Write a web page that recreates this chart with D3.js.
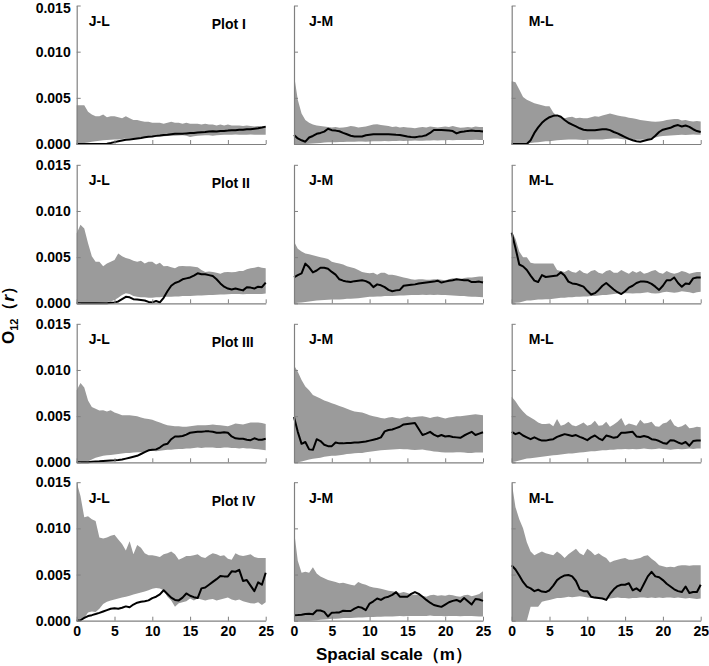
<!DOCTYPE html>
<html>
<head>
<meta charset="utf-8">
<script src="https://cdn.jsdelivr.net/npm/d3@7"></script>
<style>
  html, body { margin: 0; padding: 0; background: #fff; }
  svg { display: block; font-family: "Liberation Sans", Arial, sans-serif; }
</style>
</head>
<body>
<svg id="chart" width="709" height="666"></svg>
<script>
// ---------------- DATA (values in units of 0.001) ----------------
const plotNames = ["Plot I", "Plot II", "Plot III", "Plot IV"];
const pairNames = ["J-L", "J-M", "M-L"];
const xTicks = [0, 5, 10, 15, 20, 25];
const yTicks = [0, 5, 10, 15];
const yTickLabels = ["0.000", "0.005", "0.010", "0.015"];
const xMax = 25;  // spatial scale (m); each series sampled every 0.5 m from 0 to 25

// Plot I
const p1_JL_upper = [4.2,4.2,4.2,3.5,3.2,3.0,3.0,3.2,2.9,3.0,3.0,2.9,2.8,3.0,2.8,2.6,2.6,2.5,2.4,2.4,2.3,2.3,2.3,2.2,2.3,2.4,2.3,2.3,2.2,2.3,2.2,2.2,2.2,2.1,2.2,2.1,2.1,2.0,2.1,2.0,2.1,2.0,2.0,2.0,1.95,2.0,1.95,1.9,1.95,1.9,1.9];
const p1_JL_lower = [0,0.05,0.1,0.15,0.25,0.3,0.35,0.4,0.43,0.45,0.5,0.5,0.55,0.6,0.6,0.62,0.65,0.7,0.72,0.75,0.8,0.8,0.82,0.85,0.87,0.9,0.9,0.92,0.95,0.9,0.75,0.85,0.9,0.92,0.95,0.95,0.9,0.95,0.98,1.0,1.0,1.0,1.02,1.0,1.0,1.0,1.02,1.0,1.0,1.0,1.0];
const p1_JL_obs   = [0,0,0,0,0,0,0,0,0.02,0.1,0.2,0.3,0.38,0.45,0.5,0.55,0.6,0.65,0.72,0.78,0.82,0.88,0.92,0.97,1.0,1.05,1.1,1.12,1.1,1.15,1.18,1.2,1.25,1.28,1.3,1.35,1.38,1.35,1.4,1.42,1.45,1.5,1.5,1.55,1.55,1.6,1.6,1.65,1.7,1.78,1.88];

const p1_JM_upper = [7.5,4.8,3.3,2.6,2.3,2.1,2.0,1.95,1.9,1.85,1.8,1.85,1.75,1.8,1.85,1.95,1.9,1.8,1.85,1.9,2.0,2.1,2.15,2.05,2.0,1.95,1.85,1.9,1.8,1.85,1.8,1.75,1.7,1.8,1.85,1.8,1.9,1.85,1.8,1.85,1.9,1.85,1.95,1.85,1.75,1.8,1.85,1.8,1.9,1.85,1.85];
const p1_JM_lower = [0,0,0,0,0.02,0.05,0.08,0.1,0.15,0.18,0.2,0.2,0.22,0.22,0.25,0.25,0.25,0.27,0.28,0.25,0.28,0.3,0.3,0.3,0.32,0.3,0.32,0.33,0.35,0.33,0.35,0.35,0.38,0.35,0.36,0.38,0.38,0.4,0.38,0.4,0.4,0.42,0.4,0.42,0.43,0.43,0.42,0.43,0.45,0.43,0.43];
const p1_JM_obs   = [0.98,0.6,0.4,0.25,0.7,0.87,1.1,1.2,1.34,1.65,1.5,1.45,1.38,1.2,1.05,0.9,0.82,0.8,0.82,0.95,1.0,1.05,1.05,1.05,1.05,1.05,1.03,1.0,0.98,0.9,0.82,0.75,0.72,0.8,0.85,0.95,1.2,1.52,1.52,1.52,1.5,1.45,1.4,1.15,1.3,1.35,1.42,1.45,1.42,1.4,1.35];

const p1_ML_upper = [6.8,6.7,5.9,5.1,4.8,4.6,4.4,4.3,4.2,4.1,4.1,3.4,3.0,2.9,2.8,2.9,2.95,2.8,2.85,2.8,2.8,2.9,3.0,2.95,3.1,3.2,3.3,3.2,3.1,3.0,2.95,2.85,2.8,2.7,2.6,2.55,2.5,2.45,2.4,2.45,2.5,2.6,2.65,2.7,2.7,2.55,2.6,2.5,2.45,2.5,2.45];
const p1_ML_lower = [0,0,0,0.02,0.05,0.1,0.15,0.2,0.25,0.3,0.3,0.35,0.4,0.42,0.45,0.48,0.5,0.48,0.45,0.42,0.45,0.5,0.5,0.48,0.5,0.55,0.58,0.6,0.6,0.55,0.5,0.48,0.45,0.45,0.45,0.48,0.55,0.62,0.7,0.8,0.87,0.9,0.92,0.95,0.98,1.0,0.98,1.0,1.02,1.0,1.0];
const p1_ML_obs   = [0,0,0,0,0,0.4,1.2,1.8,2.3,2.65,2.9,3.05,3.1,2.95,2.6,2.3,2.1,1.9,1.7,1.55,1.5,1.5,1.5,1.55,1.6,1.6,1.5,1.3,1.15,0.95,0.75,0.55,0.4,0.3,0.25,0.35,0.45,0.55,0.9,1.3,1.55,1.65,1.75,1.95,2.05,1.9,2.0,1.85,1.6,1.4,1.3];

// Plot II
const p2_JL_upper = [7.6,8.5,8.1,6.5,5.1,4.5,4.5,4.0,4.3,4.5,4.7,5.4,5.1,4.9,4.8,4.6,4.5,4.6,4.3,4.5,4.5,4.2,4.4,4.0,4.05,3.9,3.8,4.0,4.05,4.0,4.0,3.95,3.9,3.6,3.4,3.45,3.4,3.3,3.2,3.35,3.4,3.35,3.4,3.5,3.5,3.7,3.8,3.85,3.95,3.85,3.8];
const p2_JL_lower = [0,0,0,0,0,0.02,0.05,0.1,0.15,0.2,0.35,0.6,0.9,1.1,1.0,0.8,0.7,0.65,0.65,0.6,0.6,0.65,0.65,0.7,0.7,0.72,0.75,0.75,0.78,0.8,0.8,0.82,0.85,0.85,0.88,0.9,0.9,0.92,0.95,0.95,0.98,1.0,1.0,1.0,0.98,1.0,1.0,1.02,1.0,1.02,1.05];
const p2_JL_obs   = [0,0,0,0,0,0,0,0,0,0.05,0.1,0.2,0.45,0.7,0.65,0.45,0.4,0.35,0.3,0.15,0.1,0.25,0.1,0.6,1.3,1.9,2.2,2.35,2.6,2.7,2.8,3.0,3.25,3.15,3.15,3.05,2.95,2.6,2.15,1.8,1.6,1.5,1.6,1.5,1.4,1.75,1.7,1.6,1.8,1.75,2.25];

const p2_JM_upper = [6.7,5.9,5.6,5.4,5.3,5.2,5.1,5.0,4.9,4.8,4.5,4.4,4.3,4.2,4.0,3.9,3.8,3.6,3.4,3.3,3.25,3.3,3.1,3.3,3.3,3.1,3.1,3.0,2.9,2.8,2.7,2.6,2.55,2.6,2.6,2.55,2.55,2.6,2.6,2.55,2.5,2.6,2.7,2.65,2.6,2.75,2.8,2.8,2.85,2.9,2.9];
const p2_JM_lower = [0,0.05,0.1,0.15,0.2,0.25,0.3,0.32,0.35,0.38,0.4,0.42,0.42,0.45,0.48,0.5,0.52,0.55,0.6,0.65,0.7,0.72,0.75,0.75,0.78,0.8,0.8,0.82,0.85,0.85,0.88,0.9,0.9,0.9,0.92,0.9,0.92,0.9,0.92,0.9,0.9,0.88,0.85,0.82,0.8,0.78,0.75,0.72,0.7,0.68,0.65];
const p2_JM_obs   = [2.8,3.05,3.25,4.3,3.9,3.35,3.55,3.85,3.85,3.75,3.4,3.1,2.6,2.45,2.35,2.3,2.4,2.45,2.5,2.4,2.2,1.75,2.05,1.95,1.75,1.45,1.3,1.4,1.45,1.9,1.95,2.0,2.05,2.15,2.2,2.25,2.3,2.35,2.45,2.25,2.35,2.45,2.5,2.6,2.55,2.5,2.5,2.3,2.3,2.35,2.25];

const p2_ML_upper = [7.8,7.0,5.6,5.0,5.0,4.4,4.3,4.3,4.3,4.3,4.3,4.3,3.6,3.5,3.4,3.6,3.4,3.3,3.6,3.3,3.2,3.5,3.6,3.3,3.2,3.5,3.6,3.3,3.3,3.6,3.4,3.2,3.5,3.3,3.5,3.2,3.3,3.5,3.6,3.3,3.2,3.5,3.3,3.2,3.3,3.5,3.4,3.2,3.3,3.4,3.4];
const p2_ML_lower = [0,0.05,0.1,0.2,0.3,0.3,0.35,0.4,0.42,0.45,0.45,0.5,0.55,0.6,0.6,0.65,0.65,0.7,0.7,0.75,0.75,0.78,0.8,0.85,0.9,0.9,0.95,1.0,1.05,1.05,1.1,1.1,1.05,1.1,1.1,1.15,1.2,1.1,1.05,1.1,1.2,1.25,1.2,1.15,1.2,1.3,1.25,1.2,1.1,1.2,1.25];
const p2_ML_obs   = [7.65,6.0,4.2,4.0,3.6,3.0,2.45,2.3,3.05,2.85,2.9,2.95,3.0,3.35,3.0,2.35,2.15,2.1,1.95,1.8,1.35,0.95,1.1,1.45,1.9,2.2,1.85,1.5,1.2,1.0,1.3,1.7,1.9,2.2,2.35,2.35,2.3,2.1,1.8,1.45,1.9,2.5,2.5,2.8,2.2,1.8,2.15,2.1,2.7,2.8,2.8];

// Plot III
const p3_JL_upper = [7.8,8.6,8.1,6.7,6.0,5.8,5.6,5.65,5.5,5.65,5.4,5.25,5.1,5.1,5.1,5.05,5.0,4.85,4.75,4.7,4.6,4.45,4.3,4.15,4.0,3.95,3.9,3.9,3.85,3.85,3.9,3.95,4.0,4.0,4.0,4.05,4.1,4.05,4.0,3.95,3.9,4.05,4.2,4.15,4.1,4.2,4.3,4.3,4.3,4.25,4.15];
const p3_JL_lower = [0,0,0,0.1,0.3,0.5,0.6,0.7,0.75,0.8,0.85,0.9,0.95,1.0,1.0,1.05,1.1,1.1,1.15,1.2,1.25,1.2,1.25,1.3,1.35,1.35,1.4,1.45,1.45,1.5,1.5,1.55,1.6,1.55,1.6,1.6,1.6,1.55,1.55,1.6,1.6,1.55,1.55,1.5,1.55,1.5,1.5,1.45,1.4,1.35,1.3];
const p3_JL_obs   = [0,0,0,0,0.05,0.1,0.12,0.15,0.18,0.2,0.22,0.25,0.3,0.4,0.5,0.6,0.7,0.9,1.1,1.3,1.35,1.4,1.6,1.9,2.0,2.5,2.8,2.8,2.85,3.0,3.2,3.25,3.3,3.3,3.35,3.35,3.3,3.2,3.2,3.25,3.2,2.8,2.6,2.55,2.55,2.45,2.4,2.6,2.45,2.45,2.55];

const p3_JM_upper = [10.5,9.8,8.9,8.2,7.8,7.3,7.1,6.9,6.7,6.55,6.4,6.25,6.1,5.95,5.8,5.65,5.5,5.45,5.4,5.25,5.1,5.0,4.9,4.8,4.75,4.85,4.9,4.8,4.75,4.85,4.95,4.85,4.9,4.95,5.0,4.9,4.8,4.9,4.95,4.85,4.75,4.85,4.9,5.0,5.0,5.05,5.1,5.15,5.2,5.15,5.1];
const p3_JM_lower = [0,0,0.1,0.2,0.3,0.38,0.43,0.5,0.6,0.65,0.7,0.72,0.75,0.82,0.9,0.93,0.97,1.0,1.02,1.08,1.15,1.2,1.26,1.3,1.33,1.36,1.38,1.42,1.44,1.42,1.4,1.36,1.33,1.36,1.38,1.3,1.25,1.18,1.15,1.1,1.05,1.05,1.05,1.08,1.1,1.05,1.0,1.02,1.05,1.05,1.05];
const p3_JM_obs   = [4.9,3.3,2.0,2.2,1.4,1.35,2.5,2.3,1.9,1.75,1.75,2.15,2.05,2.05,2.1,2.1,2.15,2.15,2.2,2.25,2.35,2.45,2.55,2.7,3.35,3.5,3.55,3.7,3.85,4.1,4.15,4.2,4.25,3.6,2.95,3.1,3.3,3.0,2.8,2.95,2.8,2.85,2.75,2.7,2.65,2.9,3.1,3.3,2.95,3.1,3.25];

const p3_ML_upper = [7.1,6.6,6.0,5.5,5.1,4.85,4.6,4.3,4.15,4.15,4.2,3.9,4.7,3.95,4.1,4.4,4.0,3.9,4.1,4.3,3.95,4.1,4.5,3.95,4.0,4.4,3.85,4.1,4.4,4.8,3.95,4.2,4.1,3.95,4.6,4.2,4.25,4.4,3.9,3.85,4.2,4.3,4.7,4.0,3.8,3.9,4.15,3.7,3.75,3.85,3.8];
const p3_ML_lower = [0,0.1,0.2,0.3,0.4,0.45,0.5,0.55,0.6,0.65,0.7,0.75,0.8,0.85,0.9,0.95,0.95,1.0,1.05,1.1,1.15,1.2,1.2,1.25,1.3,1.3,1.35,1.35,1.4,1.4,1.45,1.4,1.45,1.4,1.45,1.5,1.45,1.4,1.45,1.5,1.45,1.4,1.35,1.4,1.45,1.4,1.45,1.5,1.45,1.5,1.5];
const p3_ML_obs   = [3.3,3.05,3.2,2.9,2.7,2.5,2.7,2.5,2.35,2.35,2.45,2.5,2.75,2.9,3.05,2.95,2.85,2.95,2.75,2.6,2.4,2.7,2.9,2.6,2.4,2.9,2.8,2.65,2.75,3.2,3.2,3.25,3.3,2.8,2.75,2.85,2.75,2.5,2.45,2.3,2.1,2.0,2.4,2.35,2.15,2.0,2.2,1.8,2.3,2.35,2.35];

// Plot IV
const p4_JL_upper = [15.0,13.5,11.2,11.3,11.0,10.8,9.0,8.9,9.0,9.2,9.3,8.8,8.3,7.6,8.6,7.2,8.2,7.9,7.3,7.1,7.1,7.0,6.9,7.2,7.3,7.5,7.2,6.6,6.8,7.0,7.0,7.1,7.2,6.9,6.8,7.1,7.3,7.2,7.0,7.1,6.7,6.6,7.3,7.1,7.0,7.1,7.2,6.9,6.8,6.8,6.8];
const p4_JL_lower = [0,0,0.3,0.9,1.0,0.95,1.3,1.8,2.05,2.2,2.3,2.4,2.5,2.6,2.7,2.85,2.95,3.05,3.15,3.3,3.45,3.55,3.5,3.3,2.6,2.2,1.5,1.9,2.0,2.1,2.4,2.2,2.4,2.3,2.2,2.3,2.35,2.2,2.3,2.4,2.5,2.3,2.2,2.3,2.1,2.0,1.9,1.85,2.0,1.7,2.0];
const p4_JL_obs   = [0,0.05,0.3,0.5,0.6,0.72,0.85,1.0,1.15,1.3,1.35,1.3,1.4,1.55,1.45,1.75,1.95,2.05,2.1,2.2,2.45,2.6,2.85,3.3,2.9,2.5,2.25,2.2,2.5,2.95,2.7,2.55,2.45,3.5,3.6,3.9,4.2,4.5,4.85,4.8,4.8,5.35,5.3,5.5,4.3,4.4,3.8,3.2,4.15,3.9,5.2];

const p4_JM_upper = [9.8,6.5,5.2,5.3,5.2,5.8,5.1,4.8,4.6,4.4,4.3,4.2,4.05,4.1,4.0,3.9,3.8,4.2,4.0,3.9,3.7,3.6,3.55,3.45,3.35,3.25,3.2,3.1,3.0,3.1,3.0,2.85,2.8,2.85,2.7,2.6,2.75,2.8,2.7,2.75,2.7,2.8,2.75,2.65,2.6,2.75,2.8,2.65,2.75,2.9,3.2];
const p4_JM_lower = [0,0,0,0,0,0.02,0.05,0.1,0.12,0.15,0.2,0.22,0.25,0.28,0.3,0.3,0.32,0.35,0.35,0.38,0.4,0.4,0.42,0.42,0.45,0.45,0.45,0.48,0.5,0.48,0.5,0.5,0.52,0.5,0.5,0.52,0.55,0.52,0.5,0.5,0.48,0.5,0.52,0.5,0.48,0.5,0.52,0.5,0.48,0.45,0.45];
const p4_JM_obs   = [0.6,0.62,0.65,0.72,0.75,0.7,1.1,1.1,0.95,0.45,0.87,0.88,0.9,1.08,1.05,1.05,1.3,1.5,1.4,1.15,1.85,2.1,2.4,2.25,2.5,2.6,2.8,3.1,2.6,2.6,2.6,2.9,3.1,2.9,2.6,2.25,1.95,1.7,1.6,1.5,1.75,2.0,2.15,2.25,2.05,2.45,2.1,1.75,2.35,2.3,2.15];

const p4_ML_upper = [15.0,12.3,11.0,10.0,8.5,7.5,7.1,7.3,7.5,7.3,7.2,7.1,7.5,7.2,6.8,7.2,7.5,7.8,7.3,7.1,7.8,7.5,7.1,7.3,7.0,6.8,6.3,6.5,6.6,6.7,6.8,6.6,6.6,6.7,6.8,7.0,7.1,6.7,6.4,6.0,5.9,5.8,5.85,5.8,5.95,6.0,6.0,5.95,6.0,6.0,6.0];
const p4_ML_lower = [0,0,0,0,0,1.5,1.5,1.5,2.05,2.15,2.25,2.35,2.45,2.45,2.5,2.6,2.55,2.6,2.65,2.6,2.5,2.45,2.4,2.4,2.35,2.35,2.4,2.45,2.5,2.45,2.45,2.4,2.45,2.45,2.5,2.5,2.45,2.5,2.45,2.5,2.45,2.5,2.5,2.45,2.5,2.45,2.4,2.45,2.4,2.35,2.4];
const p4_ML_obs   = [6.0,5.55,4.9,4.2,3.7,3.5,3.2,3.35,3.15,3.1,3.3,3.8,4.4,4.7,4.9,4.95,4.8,4.3,3.4,3.2,3.2,2.6,2.5,2.45,2.4,2.25,2.9,3.4,3.75,3.9,3.9,4.05,3.3,3.5,3.2,4.0,4.8,5.3,4.8,4.7,4.4,4.0,3.7,3.4,3.2,3.1,3.7,3.0,3.1,3.1,3.9];

// ---------------- PANEL TABLE ----------------
const panels = [
  [ {pair: "J-L", upper: p1_JL_upper, lower: p1_JL_lower, obs: p1_JL_obs},
    {pair: "J-M", upper: p1_JM_upper, lower: p1_JM_lower, obs: p1_JM_obs},
    {pair: "M-L", upper: p1_ML_upper, lower: p1_ML_lower, obs: p1_ML_obs} ],
  [ {pair: "J-L", upper: p2_JL_upper, lower: p2_JL_lower, obs: p2_JL_obs},
    {pair: "J-M", upper: p2_JM_upper, lower: p2_JM_lower, obs: p2_JM_obs},
    {pair: "M-L", upper: p2_ML_upper, lower: p2_ML_lower, obs: p2_ML_obs} ],
  [ {pair: "J-L", upper: p3_JL_upper, lower: p3_JL_lower, obs: p3_JL_obs},
    {pair: "J-M", upper: p3_JM_upper, lower: p3_JM_lower, obs: p3_JM_obs},
    {pair: "M-L", upper: p3_ML_upper, lower: p3_ML_lower, obs: p3_ML_obs} ],
  [ {pair: "J-L", upper: p4_JL_upper, lower: p4_JL_lower, obs: p4_JL_obs},
    {pair: "J-M", upper: p4_JM_upper, lower: p4_JM_lower, obs: p4_JM_obs},
    {pair: "M-L", upper: p4_ML_upper, lower: p4_ML_lower, obs: p4_ML_obs} ]
];

// ---------------- LAYOUT ----------------
const svg = d3.select("#chart");
const colLeft = [76.7, 294, 511.7];
const rowTop = [5.5, 164.8, 323.8, 482.2];
const pw = 189, ph = 138.5;
const labelDx = [12, 15, 17];
const fill = "#9b9b9b";
const axisColor = "#808080";

const x = d3.scaleLinear().domain([0, xMax]).range([0, pw]);
const y = d3.scaleLinear().domain([0, 15]).range([ph, 0]);

const toPts = arr => arr.map((v, i) => ({x: i * xMax / (arr.length - 1), v}));

panels.forEach((row, r) => {
  row.forEach((p, c) => {
    const g = svg.append("g").attr("transform", `translate(${colLeft[c]},${rowTop[r]})`);
    const up = toPts(p.upper), lo = toPts(p.lower);
    const band = up.map((d, i) => ({x: d.x, hi: d.v, lo: lo[i] ? lo[i].v : 0}));
    g.append("path")
      .attr("d", d3.area().x(d => x(d.x)).y0(d => y(d.lo)).y1(d => y(d.hi))(band))
      .attr("fill", fill).attr("stroke", "none");
    g.append("path")
      .attr("d", d3.line().x(d => x(d.x)).y(d => y(d.v))(toPts(p.obs)))
      .attr("fill", "none").attr("stroke", "#000").attr("stroke-width", 2)
      .attr("stroke-linejoin", "round");

    // axes
    const ya = d3.axisLeft(y).tickValues(yTicks).tickSize(-4).tickSizeOuter(0).tickPadding(6)
      .tickFormat((d, i) => c === 0 ? yTickLabels[i] : "");
    const yg = g.append("g").call(ya);
    const xa = d3.axisBottom(x).tickValues(xTicks).tickSize(-4).tickSizeOuter(0).tickPadding(5)
      .tickFormat(d => r === 3 ? String(d) : "");
    const xg = g.append("g").attr("transform", `translate(0,${ph})`).call(xa);
    [yg, xg].forEach(a => {
      a.selectAll("path.domain").attr("stroke", axisColor).attr("stroke-width", 1.2);
      a.selectAll(".tick line").attr("stroke", axisColor).attr("stroke-width", 1);
      a.selectAll(".tick text").attr("fill", "#000").attr("font-size", 14)
        .attr("font-weight", "bold").attr("font-family", "Liberation Sans, Arial, sans-serif");
    });
    // keep the topmost tick label of the first row inside the page
    if (r === 0 && c === 0) {
      yg.selectAll(".tick text").filter(d => d === 15).attr("dy", "0.5em");
    }

    g.append("text").attr("x", labelDx[c]).attr("y", 20.5)
      .attr("font-size", 14).attr("font-weight", "bold").text(p.pair);
    if (c === 0) {
      g.append("text").attr("x", 135).attr("y", 23.5)
        .attr("font-size", 14).attr("font-weight", "bold").text(plotNames[r]);
    }
  });
});

// axis titles
svg.append("text")
  .attr("x", 394).attr("y", 660)
  .attr("text-anchor", "middle").attr("font-size", 17).attr("font-weight", "bold")
  .text("Spacial scale（m）");

const yt = svg.append("text")
  .attr("transform", "translate(14,311) rotate(-90)")
  .attr("text-anchor", "middle").attr("font-size", 17).attr("font-weight", "bold");
yt.append("tspan").text("O");
yt.append("tspan").attr("font-size", 11).attr("dy", 4).text("12");
yt.append("tspan").attr("dy", -4).text("（");
yt.append("tspan").attr("font-style", "italic").text("r");
yt.append("tspan").text("）");
</script>
</body>
</html>
